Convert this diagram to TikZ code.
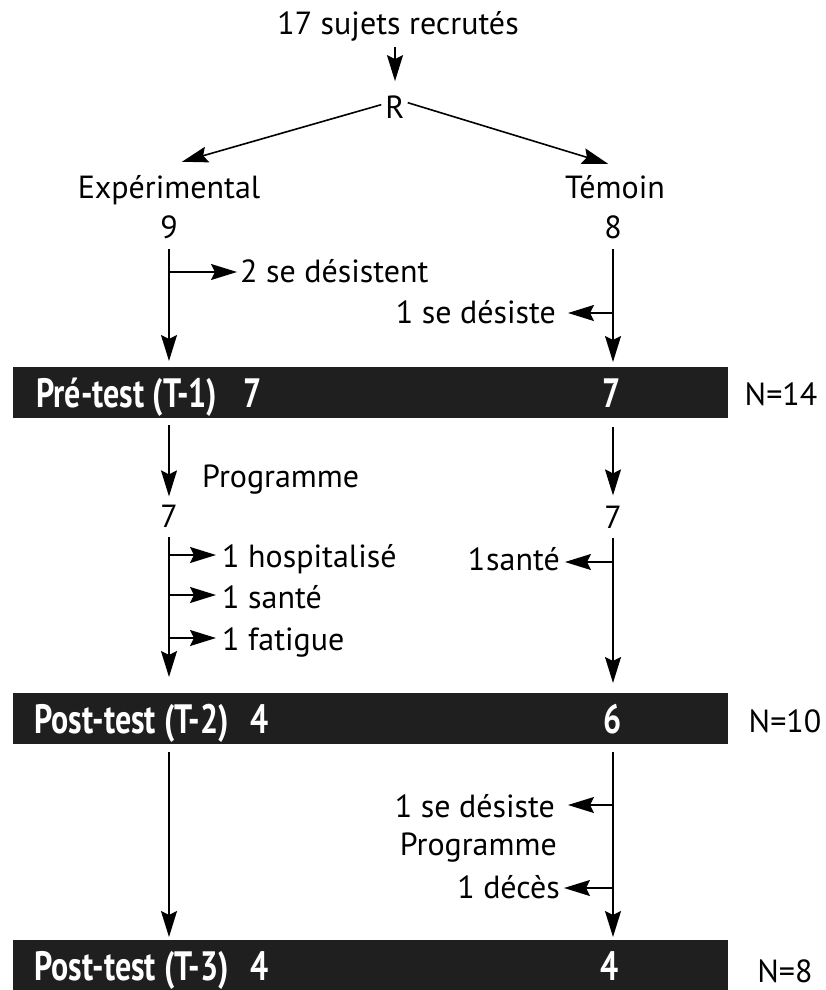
\documentclass[tikz,border=0pt]{standalone}
\usepackage{fontspec}
\setmainfont{PT Sans}
\newfontfamily\barfont[FakeStretch=0.78]{PT Sans}
\usetikzlibrary{arrows.meta,calc}
\begin{document}
\begin{tikzpicture}[x=1pt,y=-1pt,
  txt/.style={font=\fontsize{32}{36}\selectfont, inner sep=0pt},
  bartxt/.style={font=\barfont\bfseries\fontsize{41}{44}\selectfont, text=white, inner sep=0pt},
  barbox/.style={fill=black!88, draw=none, minimum width=715pt, minimum height=51pt, inner sep=0pt},
  conn/.style={line width=1.6pt},
  arr/.style={conn, -{Stealth[length=26pt,width=16pt,inset=4pt]}}]
\useasboundingbox (0,0) rectangle (825,990);
% top part
\node[txt, anchor=base] (top) at (398,35) {17 sujets recrutés};
\node[txt, anchor=base] (R) at (395,118) {R};
\node[txt, anchor=base] (exp) at (169,198) {Expérimental};
\node[txt, anchor=base] (tem) at (615,198) {Témoin};
\node[txt, anchor=base] (n9) at (169,238) {9};
\node[txt, anchor=base] (n8) at (613,238) {8};
\node[txt, anchor=base west] (d2) at (240,282) {2 se désistent};
\node[txt, anchor=base east] (d1) at (556,323) {1 se désiste};
% bar 1
\node[barbox, anchor=north west] (bar1) at (13,367) {};
\node[bartxt, anchor=base west] (b1l) at (36,407) {Pré-test (T-1)\hspace{26pt}7};
\node[bartxt, anchor=base] (b1r) at (612,407) {7};
\node[txt, anchor=base] (N14) at (781,405) {N=14};
% middle part
\node[txt, anchor=base west] (prog1) at (202,487) {Programme};
\node[txt, anchor=base] (l7) at (169,527) {7};
\node[txt, anchor=base] (r7) at (613,528) {7};
\node[txt, anchor=base west] (hosp) at (222,567) {1 hospitalisé};
\node[txt, anchor=base west] (sante) at (222,608) {1 santé};
\node[txt, anchor=base west] (fat) at (222,650) {1 fatigue};
\node[txt, anchor=base east] (rsante) at (560,570) {1\hspace{1pt}santé};
% bar 2
\node[barbox, anchor=north west] (bar2) at (13,693) {};
\node[bartxt, anchor=base west] (b2l) at (34,733) {Post-test (T-2)\hspace{22pt}4};
\node[bartxt, anchor=base] (b2r) at (613,733) {6};
\node[txt, anchor=base] (N10) at (785,732) {N=10};
% lower part
\node[txt, anchor=base east] (rdes) at (555,817) {1 se désiste};
\node[txt, anchor=base east] (prog2) at (557,855) {Programme};
\node[txt, anchor=base east] (deces) at (560,898) {1 décès};
% bar 3
\node[barbox, anchor=north west, minimum height=50pt] (bar3) at (13,940) {};
\node[bartxt, anchor=base west] (b3l) at (34,980) {Post-test (T-3)\hspace{22pt}4};
\node[bartxt, anchor=base] (b3r) at (610,980) {4};
\node[txt, anchor=base] (N8) at (785,982) {N=8};
% connectors, top
\draw[arr] ($(top.south -| R)+(0,5)$) -- ($(R.north)+(0,-14)$);
\draw[arr] ($(R.west)+(-4,-2)$) -- ($(exp.north)+(13,-13)$);
\draw[arr] ($(R.east)+(3,-4)$) -- ($(tem.north)+(-7,-11)$);
% left column
\coordinate (bl1) at (169,272);
\draw[arr] ($(n9.south)+(0,10)$) -- ($(bar1.north -| n9)+(0,-6)$);
\draw[arr] (bl1) -- ($(bl1 -| d2.west)+(-3,0)$);
% right column
\coordinate (br1) at (613,313);
\draw[arr] ($(n8.south)+(0,10)$) -- ($(bar1.north -| n8)+(0,-5)$);
\draw[arr] (br1) -- ($(br1 -| d1.east)+(12,0)$);
% after bar 1
\draw[arr] ($(bar1.south -| l7)+(0,7)$) -- ($(l7.north)+(0,-8)$);
\draw[arr] ($(bar1.south -| r7)+(0,9)$) -- ($(r7.north)+(0,-10)$);
\coordinate (bl2) at (169,555);
\coordinate (bl3) at (169,595);
\coordinate (bl4) at (169,638);
\draw[arr] ($(l7.south)+(0,10)$) -- ($(bar2.north -| l7)+(0,-16)$);
\draw[arr] (bl2) -- ($(bl2 -| hosp.west)+(-6,0)$);
\draw[arr] (bl3) -- ($(bl3 -| sante.west)+(-6,0)$);
\draw[arr] (bl4) -- ($(bl4 -| fat.west)+(-6,0)$);
\coordinate (br2) at (613,562);
\draw[arr] ($(r7.south)+(0,10)$) -- ($(bar2.north -| r7)+(0,-10)$);
\draw[arr] (br2) -- ($(br2 -| rsante.east)+(5,0)$);
% after bar 2
\draw[arr] ($(bar2.south -| l7)+(0,8)$) -- ($(bar3.north -| l7)+(0,-3)$);
\coordinate (br3) at (613,805);
\coordinate (br4) at (613,888);
\draw[arr] ($(bar2.south -| r7)+(0,8)$) -- ($(bar3.north -| r7)+(0,-3)$);
\draw[arr] (br3) -- ($(br3 -| rdes.east)+(13,0)$);
\draw[arr] (br4) -- ($(br4 -| deces.east)+(4,0)$);
\end{tikzpicture}
\end{document}
